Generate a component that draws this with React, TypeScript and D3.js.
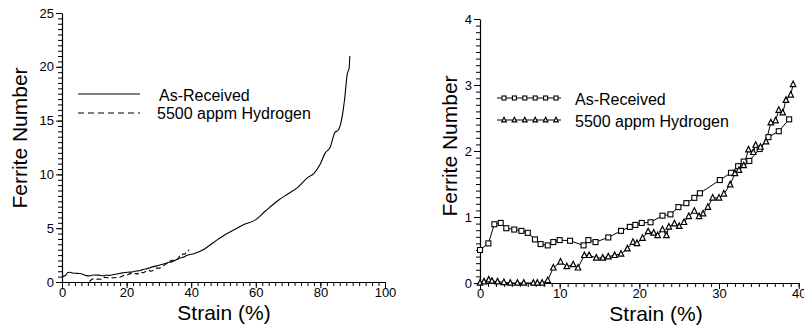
import React, { useRef, useEffect } from "react";
import * as d3 from "d3";

// right panel, as-received (squares)
const asReceivedStrain = [0, 1.05, 1.8, 2.6, 3.3, 4.3, 5.2, 6.0, 6.9, 7.6, 8.5, 9.2, 10.0, 11.3, 13.0, 13.6, 14.5, 16.1, 17.7, 18.8, 19.5, 20.3, 21.4, 22.9, 23.9, 24.9, 25.9, 26.9, 27.6, 30.1, 31.5, 32.4, 33.1, 33.8, 35.1, 36.2, 37.5, 38.8];
const asReceivedFerrite = [0.5, 0.6, 0.89, 0.91, 0.83, 0.81, 0.79, 0.76, 0.66, 0.59, 0.57, 0.62, 0.65, 0.64, 0.57, 0.65, 0.62, 0.69, 0.79, 0.85, 0.88, 0.91, 0.92, 1.02, 1.04, 1.15, 1.21, 1.29, 1.36, 1.56, 1.67, 1.77, 1.84, 1.85, 2.03, 2.21, 2.3, 2.48];

// right panel, 5500 appm hydrogen (triangles)
const hydrogenStrain = [0, 0.5, 1.1, 1.5, 2.2, 3.0, 3.8, 4.7, 5.5, 6.7, 7.2, 7.8, 8.5, 9.2, 10.1, 10.9, 11.7, 12.3, 13.1, 13.7, 14.6, 15.4, 16.1, 16.9, 17.7, 18.5, 19.2, 19.7, 20.4, 21.1, 21.8, 22.3, 22.9, 23.4, 23.7, 24.4, 25.0, 25.6, 26.2, 26.9, 27.5, 28.0, 28.6, 29.2, 30.0, 30.6, 31.4, 32.0, 32.5, 33.1, 33.7, 34.3, 34.6, 35.2, 35.9, 36.5, 37.1, 37.5, 38.0, 38.4, 39.0, 39.3];
const hydrogenFerrite = [0, 0.02, 0.05, 0.03, 0.02, 0.01, 0, 0, 0, 0, 0, 0, 0.04, 0.23, 0.32, 0.25, 0.28, 0.23, 0.42, 0.42, 0.38, 0.38, 0.4, 0.42, 0.44, 0.52, 0.62, 0.6, 0.68, 0.78, 0.76, 0.72, 0.81, 0.72, 0.85, 0.9, 0.86, 0.92, 1.01, 1.09, 1.01, 1.05, 1.15, 1.29, 1.29, 1.35, 1.49, 1.66, 1.71, 1.78, 2.02, 1.98, 2.09, 2.06, 2.14, 2.43, 2.46, 2.62, 2.58, 2.77, 2.85, 3.01];

// left panel, as-received continues to high strain
const extStrain = [41, 44, 47, 50, 53, 56, 60, 63, 67, 70, 73, 76, 78, 80, 81.5, 83, 84.5, 85.5, 86.5, 87.5, 88.3, 88.9, 89.1];
const extFerrite = [2.65, 3.05, 3.7, 4.3, 4.8, 5.3, 5.8, 6.6, 7.6, 8.2, 8.8, 9.7, 10.1, 11.0, 12.0, 12.5, 13.9, 14.1, 15.0, 17.0, 19.3, 19.9, 21.0];

const legendLabels = ["As-Received", "5500 appm Hydrogen"];
const xTitle = "Strain (%)";
const yTitle = "Ferrite Number";

const FONT = "'Liberation Sans', Arial, Helvetica, sans-serif";

const pts = (xs: number[], ys: number[]) => xs.map((x, i) => [x, ys[i]] as [number, number]);

const drawAxes = (svg: any, x: any, y: any, xMinor: number, xMajor: number, yMinor: number, yMajor: number, xMax: number, yMax: number) => {
    const x0 = x.range()[0];
    const y0 = y.range()[0];

    // minor ticks
    svg.append("g")
        .attr("transform", `translate(0, ${y0})`)
        .call(d3.axisBottom(x).tickValues(d3.range(0, xMax + 0.001, xMinor)).tickSize(4).tickFormat(() => ""))
        .call((g: any) => g.select(".domain").remove());
    svg.append("g")
        .attr("transform", `translate(${x0}, 0)`)
        .call(d3.axisLeft(y).tickValues(d3.range(0, yMax + 0.0001, yMinor)).tickSize(4).tickFormat(() => ""))
        .call((g: any) => g.select(".domain").remove());

    // major ticks with labels
    svg.append("g")
        .attr("transform", `translate(0, ${y0})`)
        .call(d3.axisBottom(x).tickValues(d3.range(0, xMax + 0.001, xMajor)).tickSize(6).tickPadding(0).tickSizeOuter(0).tickFormat(d3.format("d")))
        .call((g: any) => g.selectAll("text").attr("font-size", 13).attr("font-family", FONT));
    svg.append("g")
        .attr("transform", `translate(${x0}, 0)`)
        .call(d3.axisLeft(y).tickValues(d3.range(0, yMax + 0.001, yMajor)).tickSize(6).tickPadding(2).tickSizeOuter(0).tickFormat(d3.format("d")))
        .call((g: any) => g.selectAll("text").attr("font-size", 13).attr("font-family", FONT));

    svg.selectAll(".domain").attr("stroke-width", 1.2);
};

const square = (g: any, cx: number, cy: number, s: number) =>
    g.append("rect").attr("x", cx - s / 2).attr("y", cy - s / 2).attr("width", s).attr("height", s)
        .attr("fill", "white").attr("stroke", "black").attr("stroke-width", 1.1);

const triangle = (g: any, cx: number, cy: number, s: number) =>
    g.append("path")
        .attr("d", `M${cx},${cy - s * 0.6}L${cx + s / 2},${cy + s * 0.4}L${cx - s / 2},${cy + s * 0.4}Z`)
        .attr("fill", "white").attr("stroke", "black").attr("stroke-width", 1.2);

const App = () => {
    const svgRef = useRef(null);

    useEffect(() => {
        const svg = d3.select(svgRef.current);
        svg.selectAll("*").remove();

        // ---------- left panel ----------
        const xl = d3.scaleLinear().domain([0, 100]).range([62, 385]);
        const yl = d3.scaleLinear().domain([0, 25]).range([282, 13]);
        drawAxes(svg, xl, yl, 2, 20, 0.5, 5, 100, 25);

        const lineL = d3.line<[number, number]>().x(d => xl(d[0])).y(d => yl(d[1])).curve(d3.curveMonotoneX);

        svg.append("path")
            .datum(pts(asReceivedStrain, asReceivedFerrite).concat(pts(extStrain, extFerrite)))
            .attr("d", lineL)
            .attr("fill", "none").attr("stroke", "black").attr("stroke-width", 1.1);

        svg.append("path")
            .datum(pts(hydrogenStrain, hydrogenFerrite).filter(d => d[0] >= 8.5))
            .attr("d", lineL)
            .attr("fill", "none").attr("stroke", "black").attr("stroke-width", 1.1)
            .attr("stroke-dasharray", "5,3");

        // legend
        svg.append("line").attr("x1", 78).attr("x2", 140).attr("y1", 94).attr("y2", 94)
            .attr("stroke", "black").attr("stroke-width", 1.2);
        svg.append("line").attr("x1", 78).attr("x2", 140).attr("y1", 113).attr("y2", 113)
            .attr("stroke", "black").attr("stroke-width", 1.2).attr("stroke-dasharray", "6,4");
        svg.append("text").attr("x", 159).attr("y", 101).text(legendLabels[0])
            .attr("font-size", 16).attr("font-family", FONT);
        svg.append("text").attr("x", 157).attr("y", 119).text(legendLabels[1])
            .attr("font-size", 16).attr("font-family", FONT);

        svg.append("text").attr("x", 224).attr("y", 320).attr("text-anchor", "middle")
            .attr("font-size", 21).attr("font-family", FONT).text(xTitle);
        svg.append("text").attr("transform", "translate(27, 138) rotate(-90)").attr("text-anchor", "middle")
            .attr("font-size", 21).attr("font-family", FONT).text(yTitle);

        // ---------- right panel ----------
        const xr = d3.scaleLinear().domain([0, 40]).range([480, 798.7]);
        const yr = d3.scaleLinear().domain([0, 4]).range([283, 19]);
        drawAxes(svg, xr, yr, 1, 10, 0.1, 1, 40, 4);

        const lineR = d3.line<[number, number]>().x(d => xr(d[0])).y(d => yr(d[1]));

        svg.append("path")
            .datum(pts(asReceivedStrain, asReceivedFerrite))
            .attr("d", lineR)
            .attr("fill", "none").attr("stroke", "black").attr("stroke-width", 1);
        svg.append("path")
            .datum(pts(hydrogenStrain, hydrogenFerrite))
            .attr("d", lineR)
            .attr("fill", "none").attr("stroke", "black").attr("stroke-width", 1);

        const marks = svg.append("g");
        pts(asReceivedStrain, asReceivedFerrite).forEach(d => square(marks, xr(d[0]), yr(d[1]), 5));
        pts(hydrogenStrain, hydrogenFerrite).forEach(d => triangle(marks, xr(d[0]), yr(d[1]), 5.5));

        // legend
        svg.append("line").attr("x1", 497).attr("x2", 561).attr("y1", 98).attr("y2", 98)
            .attr("stroke", "black").attr("stroke-width", 1);
        svg.append("line").attr("x1", 497).attr("x2", 561).attr("y1", 120).attr("y2", 120)
            .attr("stroke", "black").attr("stroke-width", 1);
        d3.range(6).forEach(i => {
            square(svg, 504 + i * 10.4, 98, 4);
            triangle(svg, 504 + i * 10.4, 120, 4.5);
        });
        svg.append("text").attr("x", 575).attr("y", 105).text(legendLabels[0])
            .attr("font-size", 16).attr("font-family", FONT);
        svg.append("text").attr("x", 575).attr("y", 127).text(legendLabels[1])
            .attr("font-size", 16).attr("font-family", FONT);

        svg.append("text").attr("x", 656).attr("y", 321).attr("text-anchor", "middle")
            .attr("font-size", 21).attr("font-family", FONT).text(xTitle);
        svg.append("text").attr("transform", "translate(457, 146) rotate(-90)").attr("text-anchor", "middle")
            .attr("font-size", 21).attr("font-family", FONT).text(yTitle);
    }, []);

    return (
        <svg ref={svgRef} width={804} height={326}
            style={{ position: "absolute", left: 0, top: 0, background: "white" }}></svg>
    );
};

export default App;
